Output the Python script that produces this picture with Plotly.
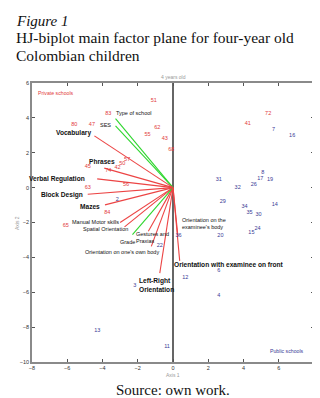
import plotly.graph_objects as go

# ---- data ----
red_labels = ["51", "83", "80", "47", "62", "55", "43", "68", "45", "42", "50", "57", "74",
              "56", "63", "84", "65", "72", "41"]
red_x = [-1.09, -3.67, -5.6, -4.6, -0.89, -1.45, -0.47, -0.1, -4.84, -3.15, -2.88, -2.6, -3.67,
         -2.67, -4.84, -3.73, -6.08, 5.4, 4.24]
red_y = [5.0, 4.25, 3.63, 3.63, 3.43, 3.05, 2.82, 2.2, 1.2, 1.12, 1.36, 1.6, 1.0,
         0.2, 0.02, -1.41, -2.17, 4.25, 3.67]

blue_labels = ["7", "16", "8", "17", "19", "26", "31", "32", "29", "34", "35", "30", "14",
               "24", "15", "20", "36", "6", "12", "4", "13", "11", "3", "22", "2"]
blue_x = [5.7, 6.76, 5.1, 4.95, 5.5, 4.58, 2.6, 3.67, 2.82, 4.06, 4.34, 4.85, 5.78,
          4.8, 4.45, 2.69, 0.32, 2.6, 0.7, 2.6, -4.29, -0.34, -2.17, -0.75, -3.16]
blue_y = [3.3, 3.0, 0.86, 0.5, 0.47, 0.2, 0.47, 0.0, -0.8, -1.1, -1.42, -1.55, -0.95,
          -2.33, -2.58, -2.77, -2.74, -4.74, -5.17, -6.17, -8.19, -9.14, -5.6, -3.3, -0.7]

vec_names = ["Type of school", "SES", "Vocabulary", "Phrases", "Verbal Regulation",
             "Block Design", "Mazes", "Manual Motor skills", "Spatial Orientation",
             "Gestures and<br>Praxias", "Grade", "Orientation on one's own body",
             "Left-Right<br>Orientation", "Orientation on the<br>examinee's body",
             "Orientation with examinee on front"]
vec_x = [-3.26, -3.26, -4.46, -3.9, -4.3, -4.84, -3.86, -3.0, -2.75, -1.4, -2.3, -1.23,
         -0.75, 0.28, 0.38]
vec_y = [3.96, 3.54, 2.97, 1.12, 0.5, -0.38, -0.99, -2.0, -2.25, -2.5, -2.7, -3.37,
         -4.9, -2.8, -4.2]
vec_group = ["cat", "cat", "num", "num", "num", "num", "num", "num", "num", "num", "cat", "num",
             "num", "num", "num"]
vec_bold = [False, False, True, True, True, True, True, False, False, False, False, False,
            True, False, True]

x_ticks = [-8, -6, -4, -2, 0, 2, 4, 6]
y_ticks = [-10, -8, -6, -4, -2, 0, 2, 4, 6]

# label placement styles (xanchor, yanchor, xshift, yshift)
label_style = [
    ("left", "bottom", -2, 1),
    ("right", "middle", -3, 1),
    ("right", "middle", -1, 3),
    ("center", "bottom", -2, 1),
    ("right", "middle", -10, 0),
    ("right", "middle", -3, -1),
    ("right", "middle", -3, -2),
    ("right", "middle", 1, 1),
    ("right", "middle", 5, -2),
    ("left", "top", -14, 2),
    ("center", "top", -5, -2),
    ("right", "top", 10, -1),
    ("center", "top", -3, -2),
    ("left", "bottom", 2, 4),
    ("left", "top", -8, 2),
]

RED = "#e23b3b"
BLUE = "#3a3a96"
LINE_RED = "#ec4444"
GREEN = "#2ed62e"
SANS = "Liberation Sans, Arial, sans-serif"
SERIF = "Liberation Serif, Times New Roman, serif"

fig = go.Figure()

for name, x, y, g in zip(vec_names, vec_x, vec_y, vec_group):
    fig.add_trace(go.Scatter(x=[0, x], y=[0, y], mode="lines",
                             line=dict(color=GREEN if g == "cat" else LINE_RED, width=1.1),
                             hoverinfo="skip", showlegend=False))

fig.add_trace(go.Scatter(x=red_x, y=red_y, mode="text", text=red_labels,
                         textfont=dict(family=SANS, size=5.5, color=RED), showlegend=False))
fig.add_trace(go.Scatter(x=blue_x, y=blue_y, mode="text", text=blue_labels,
                         textfont=dict(family=SANS, size=5.5, color=BLUE), showlegend=False))

for name, x, y, b, st in zip(vec_names, vec_x, vec_y, vec_bold, label_style):
    xa, ya, xs, ys = st
    fig.add_annotation(x=x, y=y, text=f"<b>{name}</b>" if b else name, showarrow=False,
                       xanchor=xa, yanchor=ya, xshift=xs, yshift=ys, align="left",
                       font=dict(family=SANS, size=6.6 if b else 5.5, color="#111"))

fig.add_annotation(x=-7.8, y=5.43, text="Private schools", showarrow=False, xanchor="left",
                   font=dict(family=SANS, size=5.2, color=RED))
fig.add_annotation(x=7.57, y=-9.37, text="Public schools", showarrow=False, xanchor="right",
                   font=dict(family=SANS, size=5.2, color=BLUE))

# titles / captions
fig.add_annotation(xref="paper", yref="paper", x=-0.063, y=1.222, text="<i>Figure 1</i>",
                   showarrow=False, xanchor="left", yanchor="middle",
                   font=dict(family=SERIF, size=15, color="#111"))
fig.add_annotation(xref="paper", yref="paper", x=-0.063, y=1.162,
                   text="HJ-biplot main factor plane for four-year old",
                   showarrow=False, xanchor="left", yanchor="middle",
                   font=dict(family=SERIF, size=15.5, color="#111"))
fig.add_annotation(xref="paper", yref="paper", x=-0.063, y=1.100, text="Colombian children",
                   showarrow=False, xanchor="left", yanchor="middle",
                   font=dict(family=SERIF, size=15.5, color="#111"))
fig.add_annotation(xref="paper", yref="paper", x=0.5, y=1.022, text="4 years old",
                   showarrow=False, xanchor="center", yanchor="middle",
                   font=dict(family=SANS, size=5, color="#999"))
fig.add_annotation(xref="paper", yref="paper", x=0.5, y=-0.047, text="Axis 1",
                   showarrow=False, xanchor="center", yanchor="middle",
                   font=dict(family=SANS, size=5, color="#999"))
fig.add_annotation(xref="paper", yref="paper", x=-0.055, y=0.5, text="Axis 2", textangle=-90,
                   showarrow=False, xanchor="center", yanchor="middle",
                   font=dict(family=SANS, size=5, color="#999"))
fig.add_annotation(xref="paper", yref="paper", x=0.5, y=-0.102, text="Source: own work.",
                   showarrow=False, xanchor="center", yanchor="middle",
                   font=dict(family=SERIF, size=15, color="#111"))

axis_common = dict(showgrid=False, showline=True, linecolor="#8a8a8a", linewidth=1.5,
                   mirror="ticks", ticks="inside", ticklen=3, tickcolor="#555", tickwidth=1,
                   tickfont=dict(family=SANS, size=5.5, color="#333"))
fig.update_xaxes(range=[-8, 8], tickvals=x_ticks, zeroline=True, zerolinecolor="#666",
                 zerolinewidth=1.5, **axis_common)
fig.update_yaxes(range=[-10, 6], tickvals=y_ticks, zeroline=False, **axis_common)

fig.update_layout(width=320, height=398, margin=dict(l=23, r=13, t=75, b=44),
                  plot_bgcolor="white", paper_bgcolor="white", showlegend=False)

fig.write_html("out.html")
